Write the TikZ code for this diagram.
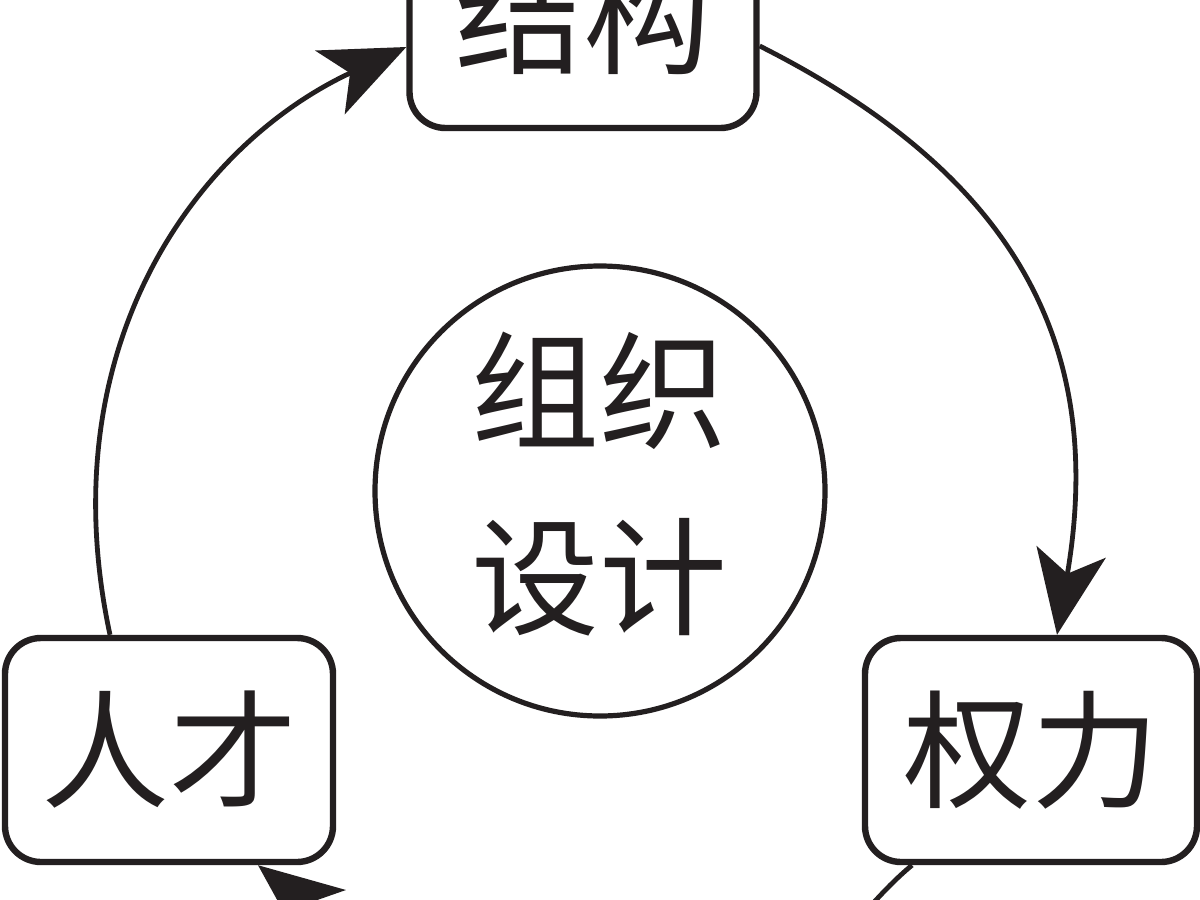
\documentclass[tikz,border=0pt]{standalone}
\usepackage{fontspec}
\newfontfamily\cjk{Noto Sans CJK SC}
\usetikzlibrary{arrows.meta,calc}
\definecolor{ink}{HTML}{231F20}
\begin{document}
\begin{tikzpicture}[x=0.5pt,y=-0.5pt,
  box/.style={draw=ink,line width=3.2pt,rounded corners=18pt,minimum width=#1,
    minimum height=112pt,inner sep=0pt,text=ink,font=\cjk\fontsize{64}{64}\selectfont},
  ring/.style={draw=ink,line width=2.6pt,circle,minimum size=225pt,inner sep=0pt},
  ringtext/.style={align=center,text=ink,inner sep=0pt,font=\cjk\fontsize{64}{93}\selectfont},
  conn/.style={draw=ink,line width=2.4pt,-{Stealth[length=42pt,width=35pt,inset=11pt]}}]
\fill[white] (0,0) rectangle (1200,900);
\begin{scope}
\clip (0,0) rectangle (1200,900);
% nodes
\node[box=173.5pt] (jg) at (583,16) {结构};
\node[box=164pt] (rc) at (169,750) {人才};
\node[box=166pt] (ql) at (1031,750) {权力};
\node[ring] (zz) at (600,491) {};
\node[ringtext] (zzt) at (599,484) {组织\\设计};
% connector end points on the nodes
\coordinate (s1) at ([yshift=-15pt]jg.east);
\coordinate (e1) at ([xshift=13pt]ql.north);
\coordinate (s2) at ([xshift=-29.5pt]rc.north);
\coordinate (e2) at ([yshift=-15.5pt]jg.west);
\coordinate (s3) at ([xshift=-59.5pt]ql.south);
\coordinate (b3) at (760,1030);
\coordinate (b4) at (440,1030);
\coordinate (e4) at ([xshift=44.5pt]rc.south);
% connectors
\draw[conn] (s1) .. controls ($(s1)+(258,130)$) and ($(e1)+(49,-287)$) .. (e1);
\draw[conn] (s2) .. controls ($(s2)+(-62,-289)$) and ($(e2)+(-209,97)$) .. (e2);
\draw[conn] (s3) .. controls ($(s3)+(-45,37)$) and ($(b3)+(60,-60)$) .. (b3);
\draw[conn] (b4) .. controls ($(b4)+(-60,-60)$) and ($(e4)+(63,50)$) .. (e4);
\end{scope}
\pgfresetboundingbox
\useasboundingbox (0,0) rectangle (1200,900);
\end{tikzpicture}
\end{document}
